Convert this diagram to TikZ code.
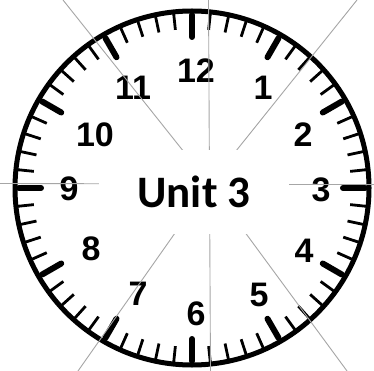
\documentclass[tikz,border=0pt]{standalone}
\usepackage{fontspec}
\setmainfont{Liberation Sans}
\newfontfamily\calibfont{Carlito}
\begin{document}
\begin{tikzpicture}[x=1pt,y=-1pt,
  rim/.style={line width=5pt},
  minortick/.style={line width=2.8pt},
  hourtick/.style={line width=6pt,line cap=round},
  num/.style={font=\bfseries\fontsize{34}{34}\selectfont, inner sep=0pt},
  guide/.style={draw=gray!70, line width=0.9pt},
  unitbox/.style={fill=white, inner sep=0pt, minimum width=190pt, minimum height=84pt,
    font=\calibfont\bfseries\fontsize{45}{45}\selectfont}]
\useasboundingbox (0,0) rectangle (374,371);
\fill[white] (0,0) rectangle (374,371);
% clock face
\coordinate (O) at (192,188);
\draw[rim] (O) circle (177);
\begin{scope}[shift={(192,188)}]
  \foreach \i in {0,...,59} {
    \draw[minortick] (-90+6*\i:176) -- (-90+6*\i:159);
  }
  \foreach \i in {0,...,11} {
    \draw[hourtick] (-90+30*\i:173) -- (-90+30*\i:151);
  }
\end{scope}
% numbers
\node[num] (n12) at (196,71) {12};
\node[num] (n1) at (263,88) {1};
\node[num] (n2) at (303,135) {2};
\node[num] (n3) at (321,190) {3};
\node[num] (n4) at (304,251) {4};
\node[num] (n5) at (259,295) {5};
\node[num] (n6) at (196,314) {6};
\node[num] (n7) at (138,294) {7};
\node[num] (n8) at (91,249) {8};
\node[num] (n9) at (69,189) {9};
\node[num] (n10) at (95,135) {10};
\node[num] (n11) at (133,88) {11};
% guide lines
\coordinate (C) at (209.5,184);
\coordinate (T) at (208.5,0);
\coordinate (B) at (210.5,371);
\coordinate (L) at (0,183.5);
\coordinate (R) at (374,184);
\coordinate (TL) at (63,0);
\coordinate (TR) at (357,0);
\coordinate (BL) at (78,371);
\coordinate (BR) at (347,371);
\foreach \e in {T,B,L,R,TL,TR,BL,BR} {
  \draw[guide] (C) -- (\e);
}
% central label
\node[unitbox] (unit) at (194,192) {Unit 3};
\end{tikzpicture}
\end{document}
